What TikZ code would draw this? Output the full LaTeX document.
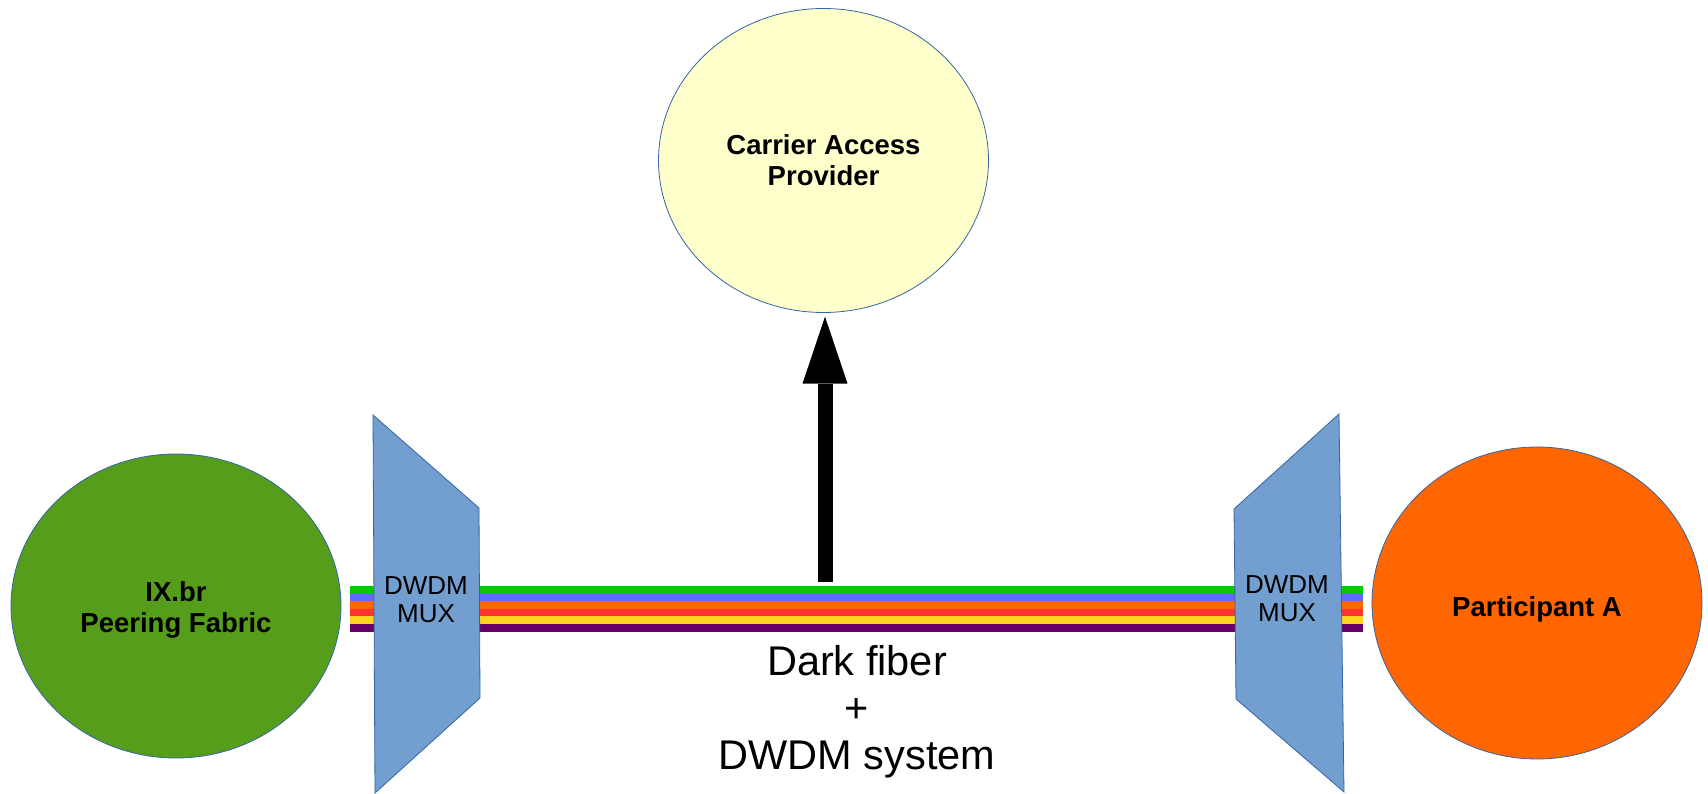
\documentclass[tikz,border=0pt]{standalone}
\usepackage{fontspec}
\setmainfont{Liberation Sans}
\usetikzlibrary{shapes.geometric,arrows.meta}
\definecolor{ixgreen}{HTML}{579D1C}
\definecolor{capyellow}{HTML}{FFFFCC}
\definecolor{partorange}{HTML}{FF6600}
\definecolor{muxfill}{HTML}{729FCF}
\definecolor{edgeblue}{HTML}{3465A4}
\definecolor{fgreen}{HTML}{00CC00}
\definecolor{fblue}{HTML}{6666FF}
\definecolor{forange}{HTML}{FF6600}
\definecolor{fred}{HTML}{FF3333}
\definecolor{fyellow}{HTML}{FFD320}
\definecolor{fpurple}{HTML}{660066}
\begin{document}
\begin{tikzpicture}[x=1pt,y=-1pt,
  site/.style={ellipse, draw=edgeblue, line width=0.8pt, minimum width=330pt, minimum height=304pt, inner sep=0pt},
  sitetext/.style={align=center, inner sep=0pt, font=\bfseries\fontsize{27.5}{30.8}\selectfont},
  muxbox/.style={fill=muxfill, draw=edgeblue, line width=0.8pt, line join=miter},
  muxtext/.style={align=center, inner sep=0pt, font=\fontsize{26}{27.9}\selectfont},
  bigarrow/.style={line width=15pt, -{Triangle[width=45pt,length=67pt,line width=0pt]}},
  caption/.style={align=center, inner sep=0pt, font=\fontsize{41.5}{46.8}\selectfont}]
\useasboundingbox (0,0) rectangle (1708,794);
\fill[white] (0,0) rectangle (1708,794);
% fiber bands
\foreach \c [count=\i from 0] in {fgreen,fblue,forange,fred,fyellow,fpurple}
  \fill[\c] (350,{586+7.6*\i}) rectangle (1363,{593.6+7.6*\i});
% multiplexers
\filldraw[muxbox] (373,415) -- (479,508) -- (480,698) -- (375,793) -- cycle;
\node[muxtext] (muxL) at (426,599.5) {DWDM\\MUX};
\filldraw[muxbox] (1339,414) -- (1234,509) -- (1236,699) -- (1344,792) -- cycle;
\node[muxtext] (muxR) at (1287,598.5) {DWDM\\MUX};
% sites
\node[site, fill=ixgreen] (ix) at (176,606) {};
\node[sitetext] (ixT) at (176,610) {IX.br\\Peering Fabric};
\node[site, fill=capyellow] (cap) at (823.5,160.5) {};
\node[sitetext] (capT) at (823.5,160.5) {Carrier Access\\Provider};
\node[site, fill=partorange, minimum height=312pt] (pa) at (1537,603) {};
\node[sitetext] (paT) at (1537,609.6) {Participant A};
% arrow
\coordinate (arrS) at (825,582);
\draw[bigarrow, shorten >=3.7pt] (arrS) -- (arrS |- cap.south);
% caption
\node[caption] (df) at (857,711.7) {Dark fiber\\+\\DWDM system};
\end{tikzpicture}
\end{document}
